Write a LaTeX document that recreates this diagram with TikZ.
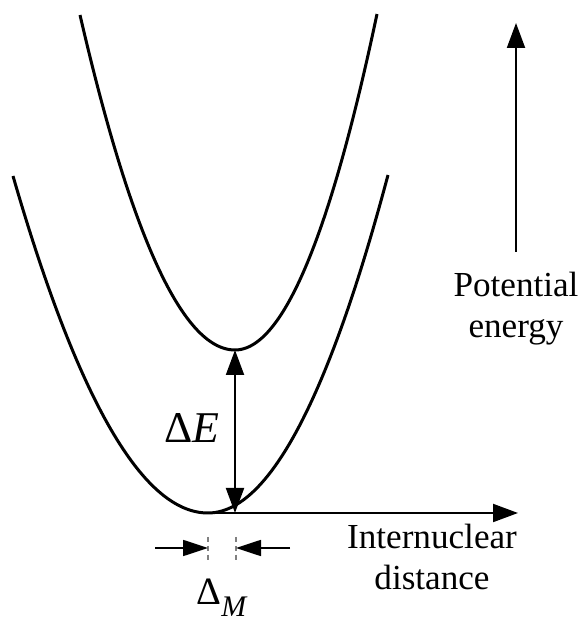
\documentclass[tikz,border=0pt]{standalone}
\usepackage{fontspec}
\setmainfont{Liberation Serif}
\usetikzlibrary{arrows.meta,positioning}
\tikzset{
  curve/.style={line width=0.6mm},
  axis/.style={line width=0.4mm, -{Triangle[length=5mm, width=3.6mm]}},
  both/.style={line width=0.4mm, {Triangle[length=5mm, width=3.6mm]}-{Triangle[length=5mm, width=3.6mm]}},
  dim/.style={line width=0.35mm, -{Triangle[length=5mm, width=3.2mm]}},
  mark line/.style={gray, line width=0.25mm, densely dashed},
  lbl/.style={font=\fontsize{20}{23.5}\selectfont, align=center, inner sep=0pt}
}

\begin{document}
\begin{tikzpicture}[x=0.2mm, y=0.2mm]
  \useasboundingbox (0,0) rectangle (582,620);
  % minima of the two curves
  \coordinate (lmin) at (208,107);
  \coordinate (umin) at (235,270);
  \draw[curve] plot[domain=-195:180, samples=120]
    ({208+\x}, {107 + (\x<0 ? 337*(\x/195)^2 : 338*(\x/180)^2)});
  \draw[curve] plot[domain=-155:142, samples=120]
    ({235+\x}, {270 + (\x<0 ? 335*(\x/155)^2 : 336*(\x/142)^2)});
  % axes
  \coordinate (xend) at (518,107);
  \draw[axis] (lmin) -- (xend);
  \coordinate (ybot) at (516,368);
  \coordinate (ytop) at (516,597);
  \draw[axis] (ybot) -- (ytop);
  \node[lbl, anchor=base] (xlab) at (432,30) {Internuclear\\distance};
  \node[lbl, anchor=base] (ylab) at (516,282) {Potential\\energy};
  % energy gap
  \coordinate (gap) at (umin |- lmin);
  \draw[both] (umin) -- (gap);
  \node[font=\fontsize{25}{30}\selectfont, inner sep=0pt, anchor=base east] (dE) at (220,177) {Δ\textit{E}};
  % shift of the minimum
  \coordinate (m1) at (208,83);
  \coordinate (m2) at (236,83);
  \draw[mark line] (m1) -- ++(0,-25);
  \draw[mark line] (m2) -- ++(0,-25);
  \coordinate (a1) at (155,72);
  \coordinate (a2) at (290,72);
  \draw[dim] (a1) -- (m1 |- a1);
  \draw[dim] (a2) -- (m2 |- a2);
  \node[font=\fontsize{22}{26}\selectfont, inner sep=0pt, anchor=base] (dM) at (222,15) {Δ\raisebox{-2.2mm}{\fontsize{17}{20}\selectfont\textit{M}}};
\end{tikzpicture}
\end{document}
